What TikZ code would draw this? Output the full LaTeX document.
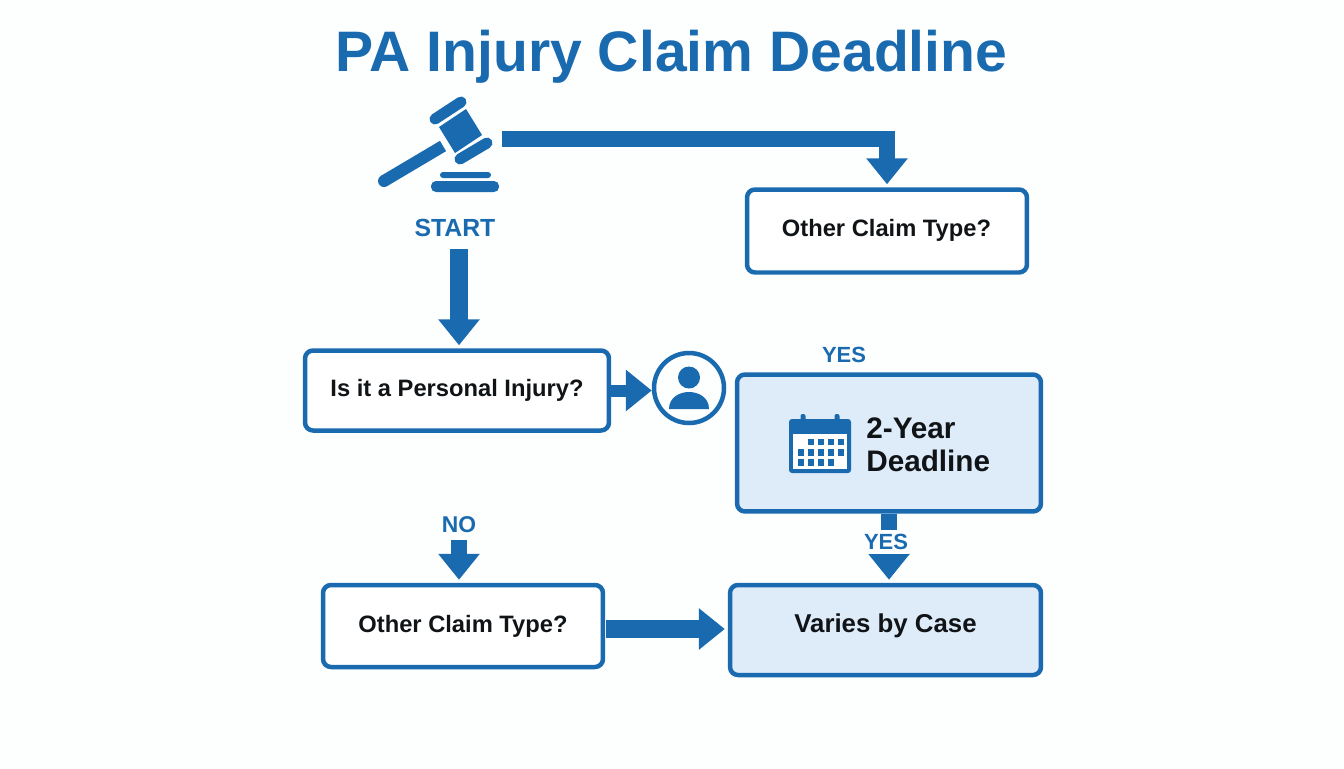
\documentclass[tikz,border=0pt]{standalone}
\usepackage{fontspec}
\setmainfont{Liberation Sans}
\usetikzlibrary{arrows.meta}
\definecolor{claimblue}{HTML}{1A6AB0}
\definecolor{claimlight}{HTML}{DEEBF8}
\definecolor{claimpaper}{HTML}{FDFEFE}
\definecolor{claimtext}{HTML}{111417}
\tikzset{
  claimbox/.style n args={2}{
    draw=claimblue, line width=.09cm, rounded corners=.16cm, fill=white,
    minimum width=#1, minimum height=#2, inner sep=0pt,
    text=claimtext, font=\fontsize{13.5}{16}\selectfont\bfseries
  },
  bluelabel/.style={
    text=claimblue, inner sep=0pt, font=\fontsize{13}{16}\selectfont\bfseries
  },
  bigarrow/.style={
    draw=claimblue, line width=.32cm,
    -{Triangle[length=.52cm,width=.8cm]}, shorten >=.06cm
  },
  iconbar/.style={draw=claimblue, line width=.22cm, line cap=round}
}
\begin{document}
\begin{tikzpicture}[x=.02cm,y=-.02cm]
      \fill[claimpaper] (0,0) rectangle (1344,768);
      \useasboundingbox (0,0) rectangle (1344,768);
      \node[anchor=base, text=claimblue, inner sep=0pt, font=\fontsize{32.5}{38}\selectfont\bfseries] (title) at (671.5,71) {PA Injury Claim Deadline};

      \node[claimbox={5.6cm}{1.66cm}] (othertop) at (887,231) {};
      \node[text=claimtext, inner sep=0pt, font=\fontsize{13.5}{16}\selectfont\bfseries] (othertoptext) at (886.5,230) {Other Claim Type?};
      \node[claimbox={6.08cm}{1.6cm}] (personal) at (457,390.5) {Is it a Personal Injury?};
      \node[claimbox={6.08cm}{2.74cm}, fill=claimlight] (deadline) at (889,443) {};
      \node[claimbox={5.6cm}{1.64cm}] (otherlow) at (463,626) {Other Claim Type?};
      \node[claimbox={6.22cm}{1.8cm}, fill=claimlight] (varies) at (885.5,630) {};
      \node[text=claimtext, inner sep=0pt, font=\fontsize{14.7}{16}\selectfont\bfseries] (variestext) at (885.5,626) {Varies by Case};
      \node[circle, draw=claimblue, line width=.09cm, minimum size=1.4cm, inner sep=0pt] (person) at (689,388) {};

      \node[bluelabel, font=\fontsize{14.1}{16}\selectfont\bfseries] (start) at (455,228) {START};
      \node[bluelabel, font=\fontsize{12.5}{16}\selectfont\bfseries] (yestop) at (844,355) {YES};
      \node[bluelabel] (no) at (459,525) {NO};
      \node[anchor=west, align=left, inner sep=0pt, text=claimtext, font=\fontsize{16.9}{18.8}\selectfont\bfseries] (deadtext) at (866,444.5) {2-Year\\Deadline};

      \coordinate (gavelout) at (502,139);
      \coordinate (startdown) at (459,249);
      \coordinate (nodown) at (459,540);
      \coordinate (otherout) at (606,629);
      \draw[bigarrow] (gavelout) -| (othertop.north);
      \draw[bigarrow, line width=.36cm] (startdown) -- (startdown |- personal.north);
      \draw[bigarrow, line width=.24cm, shorten >=0pt] (personal.east) -- (personal.east -| person.west);
      \draw[bigarrow] (nodown) -- (nodown |- otherlow.north);
      \draw[bigarrow, line width=.35cm] (otherout) -- (otherout -| varies.west);
      \draw[bigarrow] (deadline.south) -- (deadline.south |- varies.north);
      \node[bluelabel, fill=claimpaper, inner ysep=.08cm, font=\fontsize{12.5}{16}\selectfont\bfseries] (yeslow) at (886,542) {YES};

      \fill[claimblue] (466,109) -- (482,135) -- (455,153) -- (439,127) -- cycle;
      \draw[iconbar] (435,119) -- (461,102);
      \draw[iconbar] (460,159) -- (487,143);
      \draw[claimblue, line width=.24cm] (384,181) -- (443,146);
      \fill[claimblue] (384,181) circle[radius=6];
      \fill[claimblue, rounded corners=.06cm] (440,178) -- (440,172) -- (491,172) -- (491,178) -- cycle;
      \fill[claimblue, rounded corners=.1cm] (431,181) rectangle (499,192);

      \fill[claimblue] (689,377.5) circle[radius=11];
      \fill[claimblue] (669,409) .. controls (669,397) and (680,392) .. (689,392) .. controls (698,392) and (709,397) .. (709,409) -- cycle;

      \fill[claimblue, rounded corners=.06cm] (789,419) rectangle (851,473);
      \fill[claimblue, rounded corners=.04cm] (800.5,414) rectangle (805.5,424);
      \fill[claimblue, rounded corners=.04cm] (834.5,414) rectangle (839.5,424);
      \fill[white] (793,434) rectangle (847,469);
      \foreach \cx in {807.5,817.5,827.5,837.5} \fill[claimblue] (\cx,438.5) rectangle ++(6.5,6.5);
      \foreach \cx in {797.5,807.5,817.5,827.5,837.5} \fill[claimblue] (\cx,449) rectangle ++(6.5,6.5);
      \foreach \cx in {797.5,807.5,817.5,827.5} \fill[claimblue] (\cx,459) rectangle ++(6.5,6.5);
\end{tikzpicture}
\end{document}
